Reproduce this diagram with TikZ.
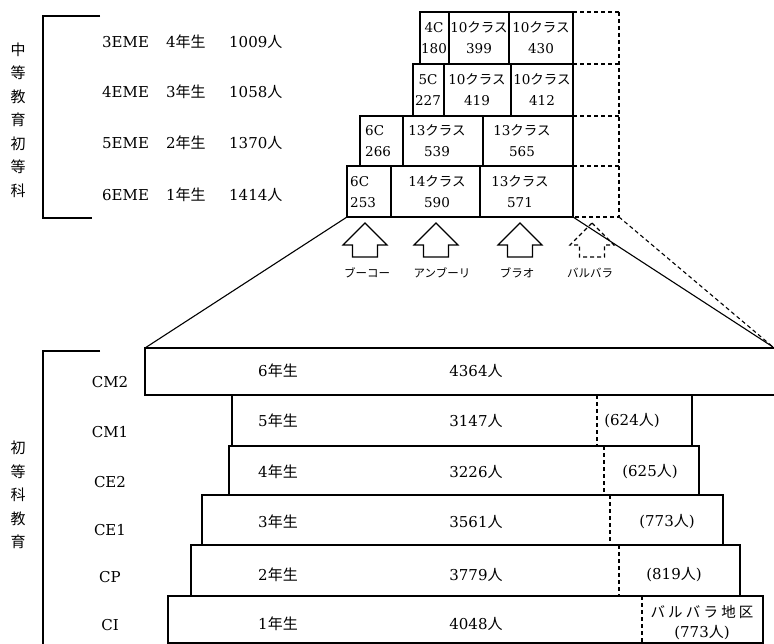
\documentclass[tikz,border=0pt]{standalone}
\usepackage{fontspec}
\setmainfont{DejaVu Serif}
\newfontfamily\jp{Noto Sans CJK JP}
\newfontfamily\jpw{Noto Sans CJK JP}[LetterSpace=22]
\newcommand\hito{{\jp 人}}
\newcommand\nensei{{\jp 年生}}
\newcommand\kls{{\jp クラス}}

\tikzset{
  box/.style={line width=1.1pt},
  dbox/.style={line width=1.1pt, dash pattern=on 4pt off 3pt},
  bracket/.style={line width=1.6pt},
  lbl/.style={font=\fontsize{15}{18}\selectfont, inner sep=0pt},
  cls/.style={font=\fontsize{13.5}{21}\selectfont, align=center, inner sep=0pt},
  vtxt/.style={font=\jp\fontsize{15}{23.5}\selectfont, align=center, inner sep=0pt},
  arrlbl/.style={font=\jp\fontsize{11.5}{14}\selectfont, inner sep=0pt},
  uparr/.pic={\draw (0,0) -- (22,22) -- (12.5,22) -- (12.5,34) -- (-12.5,34)
    -- (-12.5,22) -- (-22,22) -- cycle;}
}

\begin{document}
\begin{tikzpicture}[x=1pt, y=-1pt]
  \useasboundingbox (0,0) rectangle (774,644);

  % 中等教育
  \draw[bracket] (100,16) -- (43,16) -- (43,218) -- (92,218);
  \node[vtxt] (sec) at (18,120) {中\\等\\教\\育\\初\\等\\科};
  \foreach \y/\c/\g/\n [count=\i] in {42/3/4/1009, 92/4/3/1058, 143/5/2/1370, 195/6/1/1414} {
    \node[lbl, anchor=west] (eme\i) at (102,\y) {\c EME};
    \node[lbl, anchor=west] (gr\i) at (166,\y) {\g\nensei};
    \node[lbl, anchor=west] (cnt\i) at (229,\y) {\n\hito};
  }

  % coll\`eges : 4 rangees de cases
  \foreach \t/\b/\a/\p/\q in {12/64/420/449/509, 64/116/413/444/511,
                              116/166/360/403/483, 166/217/347/391/480} {
    \draw[box] (\a,\t) rectangle (573,\b);
    \draw[box] (\p,\t) -- (\p,\b) (\q,\t) -- (\q,\b);
    \draw[dbox] (573,\t) -- (619,\t);
  }
  \draw[dbox] (619,12) -- (619,217) -- (573,217);

  \node[cls] (c1a) at (434,38) {4C\\180};
  \node[cls] (c1b) at (479,38) {10\kls\\399};
  \node[cls] (c1c) at (541,38) {10\kls\\430};
  \node[cls] (c2a) at (428,90) {5C\\227};
  \node[cls] (c2b) at (477,90) {10\kls\\419};
  \node[cls] (c2c) at (542,90) {10\kls\\412};
  \node[cls, align=left, anchor=west] (c3a) at (365,141) {6C\\266};
  \node[cls] (c3b) at (437,141) {13\kls\\539};
  \node[cls] (c3c) at (522,141) {13\kls\\565};
  \node[cls, align=left, anchor=west] (c4a) at (350,192) {6C\\253};
  \node[cls] (c4b) at (437,192) {14\kls\\590};
  \node[cls] (c4c) at (520,192) {13\kls\\571};

  % fleches
  \pic[box] (arrA) at (365,223) {uparr};
  \pic[box] (arrB) at (436,223) {uparr};
  \pic[box] (arrC) at (520,223) {uparr};
  \pic[dbox] (arrD) at (592,223) {uparr};
  \node[arrlbl] (schA) at (367,273) {ブーコー};
  \node[arrlbl] (schB) at (442,273) {アンブーリ};
  \node[arrlbl] (schC) at (517,273) {ブラオ};
  \node[arrlbl] (schD) at (590,273) {バルバラ};

  % trapeze
  \coordinate (tl) at (347,217);
  \coordinate (tr) at (573,217);
  \coordinate (dr) at (619,217);
  \coordinate (bl) at (145,348);
  \coordinate (br) at (773,347);
  \draw[box] (tl) -- (bl);
  \draw[box] (tr) -- (br);
  \draw[dbox] (dr) -- (br);

  % 初等科教育
  \draw[bracket] (100,351) -- (43,351) -- (43,646);
  \node[vtxt] (pri) at (18,495) {初\\等\\科\\教\\育};

  \draw[box] (775,348) -- (145,348) -- (145,395) -- (775,395);
  \foreach \l/\t/\b/\r/\d in {232/395/446/692/597, 229/446/495/699/604,
                              202/495/545/723/610, 191/545/596/740/619,
                              168/596/643/763/642} {
    \draw[box] (\l,\t) rectangle (\r,\b);
    \draw[dbox] (\d,\t) -- (\d,\b);
  }

  \foreach \nm/\ly/\ty/\g/\n [count=\i] in {CM2/382/371/6/4364, CM1/432/421/5/3147,
      CE2/482/472/4/3226, CE1/530/522/3/3561, CP/577/575/2/3779, CI/625/624/1/4048} {
    \node[lbl] (cl\i) at (110,\ly) {\nm};
    \node[lbl] (yr\i) at (278,\ty) {\g\nensei};
    \node[lbl] (nb\i) at (476,\ty) {\n\hito};
  }
  \node[lbl] (ba2) at (632,421) {(624\hito)};
  \node[lbl] (ba3) at (650,472) {(625\hito)};
  \node[lbl] (ba4) at (667,522) {(773\hito)};
  \node[lbl] (ba5) at (674,575) {(819\hito)};
  \node[lbl, font=\jpw\fontsize{14.5}{16}\selectfont] (ba6) at (702,612) {バルバラ地区};
  \node[lbl] (ba7) at (702,633) {(773\hito)};
\end{tikzpicture}
\end{document}
